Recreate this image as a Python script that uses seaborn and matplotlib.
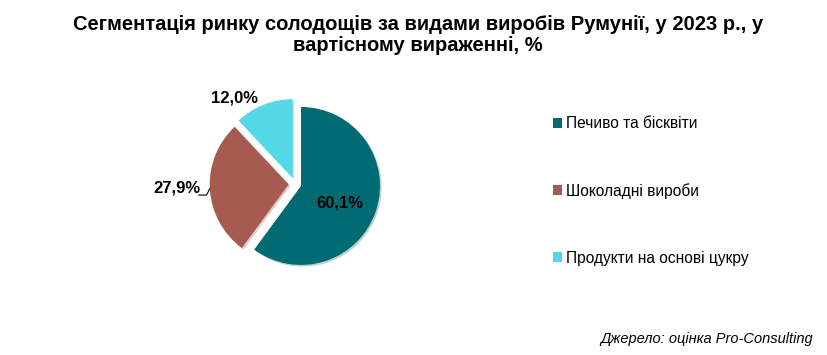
import numpy as np
import matplotlib
matplotlib.use("Agg")
import matplotlib.pyplot as plt
import seaborn as sns

# Chart data
categories = ["Печиво та бісквіти", "Шоколадні вироби", "Продукти на основі цукру"]
shares = [60.1, 27.9, 12.0]
share_labels = ["60,1%", "27,9%", "12,0%"]
colors = ["#006B72", "#A65A50", "#55D8E6"]

title = "Сегментація ринку солодощів за видами виробів Румунії, у 2023 р., у\nвартісному вираженні, %"
source = "Джерело: оцінка Pro-Consulting"

sns.set_theme(style="white")
plt.rcParams['font.family'] = ['Liberation Sans', 'DejaVu Sans']
plt.rcParams['text.color'] = 'black'

fig = plt.figure(figsize=(8.28, 3.55), dpi=100)
fig.patch.set_facecolor("white")

# pie axes: centre ~ (295, 184) px, radius ~79 px
ax = fig.add_axes([0.2323, 0.1924, 0.248, 0.5786])
palette = sns.color_palette(colors)
explode = [0.08] * len(shares)
wedges, _ = ax.pie(shares, colors=palette, startangle=90, counterclock=False,
                   explode=explode, radius=1.0,
                   shadow={'ox': 0.015, 'oy': -0.015, 'shade': 0.3, 'alpha': 0.25},
                   wedgeprops=dict(linewidth=0))
ax.set_xlim(-1.3, 1.3)
ax.set_ylim(-1.3, 1.3)
ax.set_aspect("equal")
ax.axis("off")

def mid_dir(w):
    a = np.deg2rad((w.theta1 + w.theta2) / 2)
    return np.cos(a), np.sin(a)

# inside label for the big slice
dx, dy = mid_dir(wedges[0])
ax.text(0.62 * dx - 0.02, 0.62 * dy - 0.05, share_labels[0], ha="center", va="center",
        fontsize=12, fontweight="bold", color="black")

# chocolate: outside left with a leader line
ax.text(-1.49, -0.05, share_labels[1], ha="center", va="center",
        fontsize=12, fontweight="bold", color="black")
ax.plot([-1.22, -1.12, -1.08], [-0.14, -0.14, -0.06], color="black", lw=0.8)

# sugar: outside above
ax.text(-0.76, 1.09, share_labels[2], ha="center", va="center",
        fontsize=12, fontweight="bold", color="black")

# legend
leg = fig.legend(wedges, categories, loc="upper left", bbox_to_anchor=(0.66, 0.69),
                 frameon=False, fontsize=11.2, handlelength=0.6, handleheight=0.6,
                 handletextpad=0.25, labelspacing=3.33, borderaxespad=0)
for t in leg.get_texts():
    t.set_color("black")

fig.text(0.505, 0.958, title, ha="center", va="top", fontsize=14.5,
         fontweight="bold", linespacing=1.15)
fig.text(0.982, 0.025, source, ha="right", va="bottom", fontsize=10.5, style="italic")

fig.savefig("out.png", dpi=100)
